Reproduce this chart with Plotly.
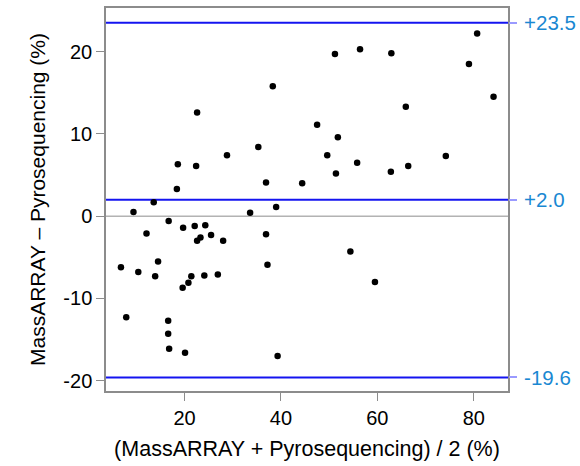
import plotly.graph_objects as go

# Bland-Altman data: mean of methods (x) vs difference (y)
mean_vals = [
    18.4, 13.6, 9.4, 33.6, 39.0, 16.7, 19.7, 22.1, 24.3, 12.1,
    23.3, 22.6, 25.5, 28.0, 36.9, 14.5, 6.8, 10.4, 13.9, 21.4,
    24.1, 26.9, 37.2, 20.8, 19.6, 7.9, 16.6, 16.6, 16.8, 20.1,
    39.3, 38.3, 22.6, 35.3, 28.8, 18.6, 22.4, 36.9, 80.7, 51.2,
    56.4, 62.9, 79.0, 84.1, 65.9, 47.5, 51.8, 49.6, 74.2, 55.8,
    51.4, 62.8, 66.4, 44.4, 54.4, 59.5,
]
diff_vals = [
    3.3, 1.7, 0.5, 0.4, 1.1, -0.6, -1.4, -1.2, -1.1, -2.1,
    -2.6, -3.0, -2.3, -3.0, -2.2, -5.5, -6.2, -6.8, -7.3, -7.3,
    -7.2, -7.1, -5.9, -8.1, -8.7, -12.3, -12.7, -14.3, -16.1, -16.6,
    -17.0, 15.8, 12.6, 8.4, 7.4, 6.3, 6.1, 4.1, 22.2, 19.7,
    20.3, 19.8, 18.5, 14.5, 13.3, 11.1, 9.6, 7.4, 7.3, 6.5,
    5.2, 5.4, 6.1, 4.0, -4.3, -8.0,
]

# Limits of agreement and bias
limit_vals = [23.5, 2.0, -19.6]
limit_labels = ["+23.5", "+2.0", "-19.6"]

x_ticks = [20, 40, 60, 80]
y_ticks = [-20, -10, 0, 10, 20]
y_tick_labels = ["-20", "-10", "0", "10", "20"]

x_range = [3.7, 87.1]
y_range = [-21.25, 25.3]

FONT = "Liberation Sans, Arial, sans-serif"

fig = go.Figure()

# zero reference line
fig.add_hline(y=0, line=dict(color="#8c8c8c", width=1), layer="below")
for v in limit_vals:
    fig.add_hline(y=v, line=dict(color="#1414f0", width=2), layer="below")

fig.add_trace(go.Scatter(
    x=mean_vals, y=diff_vals, mode="markers",
    marker=dict(color="black", size=6.5, line=dict(width=0)),
    showlegend=False, hoverinfo="x+y",
))

# invisible trace for the right axis labels
fig.add_trace(go.Scatter(
    x=[x_range[0]], y=[limit_vals[1]], yaxis="y2", mode="markers",
    marker=dict(opacity=0), showlegend=False, hoverinfo="skip",
))

fig.update_layout(
    width=580, height=466,
    margin=dict(l=106, r=72, t=8, b=75),
    paper_bgcolor="white", plot_bgcolor="white",
    font=dict(family=FONT, color="black", size=20),
    xaxis=dict(
        range=x_range, tickvals=x_ticks, ticks="outside", ticklen=8,
        tickwidth=1, tickcolor="#8c8c8c", showgrid=False, zeroline=False,
        showline=True, linecolor="#8c8c8c", linewidth=1.5, mirror=True,
        tickfont=dict(size=20), automargin=False,
        title=dict(text="(MassARRAY + Pyrosequencing) / 2 (%)",
                   font=dict(size=21.5), standoff=13),
    ),
    yaxis=dict(
        range=y_range, tickvals=y_ticks, ticktext=y_tick_labels,
        ticks="outside", ticklen=8, tickwidth=1, tickcolor="#8c8c8c",
        showgrid=False, zeroline=False,
        showline=True, linecolor="#8c8c8c", linewidth=1.5, mirror=True,
        tickfont=dict(size=20), automargin=False,
        title=dict(text="MassARRAY – Pyrosequencing (%)",
                   font=dict(size=21), standoff=12),
    ),
    yaxis2=dict(
        overlaying="y", side="right", range=y_range,
        tickvals=limit_vals, ticktext=limit_labels,
        ticks="outside", ticklen=8, tickwidth=1.5, tickcolor="#9a9aff",
        ticklabelstandoff=3,
        tickfont=dict(size=20.5, color="#1a88d2"),
        showgrid=False, zeroline=False, showline=False, automargin=False,
    ),
)

fig.write_html("out.html")
